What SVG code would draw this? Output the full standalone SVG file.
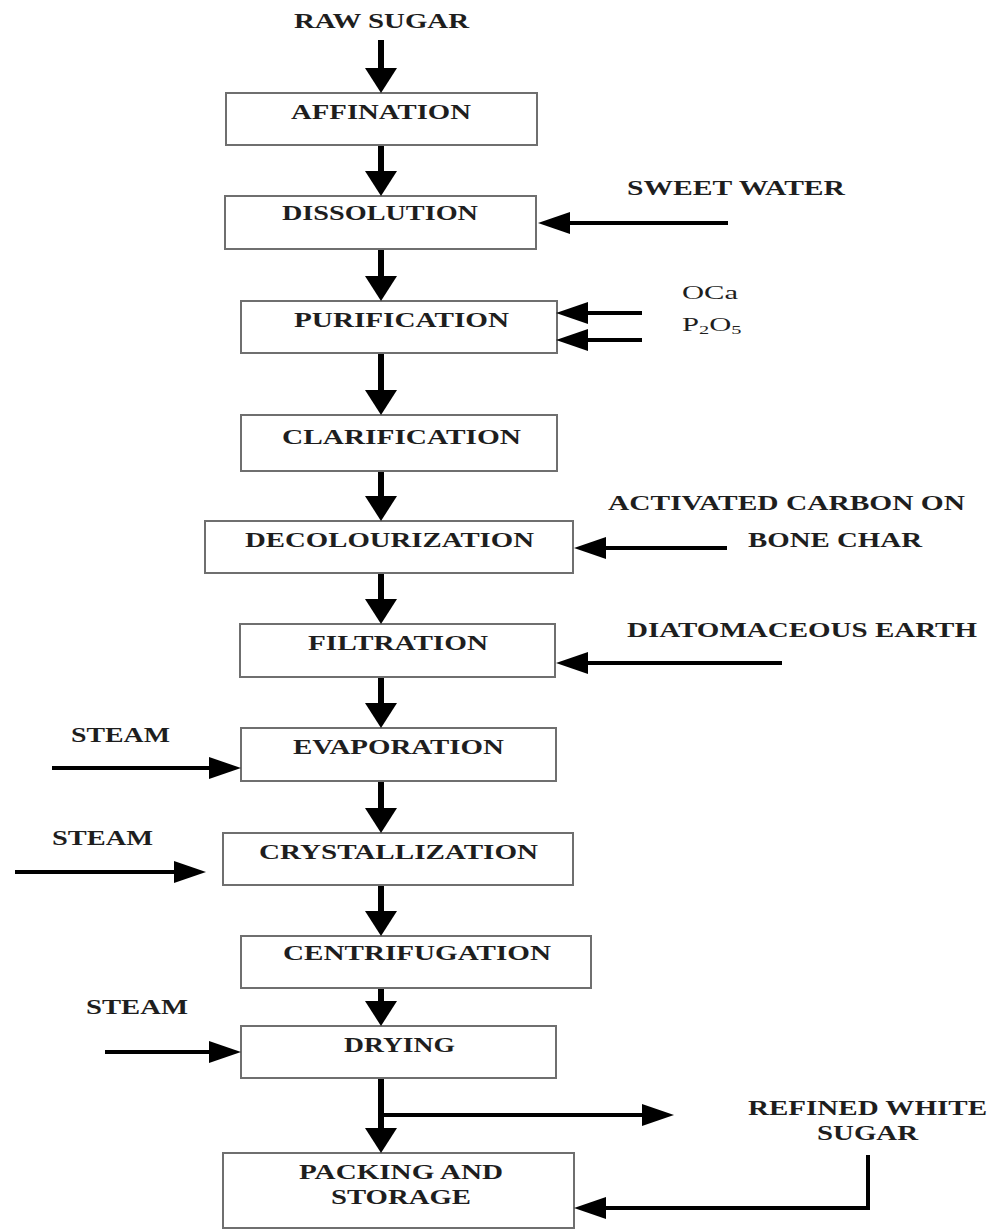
<svg xmlns="http://www.w3.org/2000/svg" width="992" height="1230" viewBox="0 0 992 1230">
  <style>
    .box { fill: #ffffff; stroke: #6f6f6f; stroke-width: 2; }
    .lbl { font-family: "Liberation Serif", "Times New Roman", serif; font-weight: bold; font-size: 21px; fill: #1e1e1e; }
    .chem { font-family: "Liberation Serif", "Times New Roman", serif; font-size: 18px; fill: #1e1e1e; }
    .v { stroke: #000; stroke-width: 6; fill: none; }
    .h { stroke: #000; stroke-width: 4; fill: none; }
  </style>
  <defs>
    <marker id="head-v" markerUnits="userSpaceOnUse" markerWidth="26" markerHeight="32" refX="0" refY="16" orient="auto" overflow="visible">
      <path d="M0,0 L25,16 L0,32 Z" fill="#000"/>
    </marker>
    <marker id="head-h" markerUnits="userSpaceOnUse" markerWidth="33" markerHeight="22" refX="0" refY="11" orient="auto" overflow="visible">
      <path d="M0,0 L32,11 L0,22 Z" fill="#000"/>
    </marker>
  </defs>
  <rect width="992" height="1230" fill="#ffffff"/>

  <!-- process steps -->
  <g id="raw-sugar">
    <text class="lbl" x="294" y="28" textLength="175" lengthAdjust="spacingAndGlyphs">RAW SUGAR</text>
  </g>
  <g id="affination">
    <rect class="box" x="226" y="93" width="311" height="52"/>
    <text class="lbl" x="291" y="119" textLength="180" lengthAdjust="spacingAndGlyphs">AFFINATION</text>
  </g>
  <g id="dissolution">
    <rect class="box" x="225" y="196" width="311" height="53"/>
    <text class="lbl" x="282" y="220" textLength="196" lengthAdjust="spacingAndGlyphs">DISSOLUTION</text>
  </g>
  <g id="purification">
    <rect class="box" x="241" y="301" width="316" height="52"/>
    <text class="lbl" x="294" y="327" textLength="215" lengthAdjust="spacingAndGlyphs">PURIFICATION</text>
  </g>
  <g id="clarification">
    <rect class="box" x="241" y="415" width="316" height="56"/>
    <text class="lbl" x="282" y="444" textLength="239" lengthAdjust="spacingAndGlyphs">CLARIFICATION</text>
  </g>
  <g id="decolourization">
    <rect class="box" x="205" y="521" width="368" height="52"/>
    <text class="lbl" x="245" y="547" textLength="289" lengthAdjust="spacingAndGlyphs">DECOLOURIZATION</text>
  </g>
  <g id="filtration">
    <rect class="box" x="240" y="624" width="315" height="53"/>
    <text class="lbl" x="308" y="650" textLength="180" lengthAdjust="spacingAndGlyphs">FILTRATION</text>
  </g>
  <g id="evaporation">
    <rect class="box" x="241" y="728" width="315" height="53"/>
    <text class="lbl" x="293" y="754" textLength="211" lengthAdjust="spacingAndGlyphs">EVAPORATION</text>
  </g>
  <g id="crystallization">
    <rect class="box" x="223" y="833" width="350" height="52"/>
    <text class="lbl" x="259" y="859" textLength="279" lengthAdjust="spacingAndGlyphs">CRYSTALLIZATION</text>
  </g>
  <g id="centrifugation">
    <rect class="box" x="241" y="936" width="350" height="52"/>
    <text class="lbl" x="283" y="960" textLength="268" lengthAdjust="spacingAndGlyphs">CENTRIFUGATION</text>
  </g>
  <g id="drying">
    <rect class="box" x="241" y="1026" width="315" height="52"/>
    <text class="lbl" x="344" y="1052" textLength="111" lengthAdjust="spacingAndGlyphs">DRYING</text>
  </g>
  <g id="packing-storage">
    <rect class="box" x="223" y="1153" width="351" height="75"/>
    <text class="lbl" x="299" y="1179" textLength="204" lengthAdjust="spacingAndGlyphs">PACKING AND</text>
    <text class="lbl" x="331" y="1204" textLength="140" lengthAdjust="spacingAndGlyphs">STORAGE</text>
  </g>

  <!-- inputs and outputs -->
  <g id="sweet-water">
    <text class="lbl" x="627" y="195" textLength="218" lengthAdjust="spacingAndGlyphs">SWEET WATER</text>
  </g>
  <g id="oca">
    <text class="chem" transform="translate(682,299) scale(1.7,1)">OCa</text>
  </g>
  <g id="p2o5">
    <text class="chem" transform="translate(682,331) scale(1.7,1)">P<tspan font-size="12" dy="3">2</tspan><tspan dy="-3">O</tspan><tspan font-size="12" dy="3">5</tspan></text>
  </g>
  <g id="activated-carbon">
    <text class="lbl" x="608" y="510" textLength="357" lengthAdjust="spacingAndGlyphs">ACTIVATED CARBON ON</text>
    <text class="lbl" x="748" y="547" textLength="174" lengthAdjust="spacingAndGlyphs">BONE CHAR</text>
  </g>
  <g id="diatomaceous-earth">
    <text class="lbl" x="627" y="637" textLength="350" lengthAdjust="spacingAndGlyphs">DIATOMACEOUS EARTH</text>
  </g>
  <g id="steam-evaporation">
    <text class="lbl" x="71" y="742" textLength="99" lengthAdjust="spacingAndGlyphs">STEAM</text>
  </g>
  <g id="steam-crystallization">
    <text class="lbl" x="52" y="845" textLength="101" lengthAdjust="spacingAndGlyphs">STEAM</text>
  </g>
  <g id="steam-drying">
    <text class="lbl" x="86" y="1014" textLength="102" lengthAdjust="spacingAndGlyphs">STEAM</text>
  </g>
  <g id="refined-white-sugar">
    <text class="lbl" x="748" y="1115" textLength="239" lengthAdjust="spacingAndGlyphs">REFINED WHITE</text>
    <text class="lbl" x="817" y="1140" textLength="101" lengthAdjust="spacingAndGlyphs">SUGAR</text>
  </g>

  <!-- connectors -->
  <g id="connectors">
    <line class="v" x1="381" y1="40" x2="381" y2="68" marker-end="url(#head-v)"/>
    <line class="v" x1="381" y1="146" x2="381" y2="171" marker-end="url(#head-v)"/>
    <line class="v" x1="381" y1="250" x2="381" y2="276" marker-end="url(#head-v)"/>
    <line class="v" x1="381" y1="354" x2="381" y2="390" marker-end="url(#head-v)"/>
    <line class="v" x1="381" y1="472" x2="381" y2="496" marker-end="url(#head-v)"/>
    <line class="v" x1="381" y1="574" x2="381" y2="599" marker-end="url(#head-v)"/>
    <line class="v" x1="381" y1="678" x2="381" y2="703" marker-end="url(#head-v)"/>
    <line class="v" x1="381" y1="782" x2="381" y2="808" marker-end="url(#head-v)"/>
    <line class="v" x1="381" y1="886" x2="381" y2="911" marker-end="url(#head-v)"/>
    <line class="v" x1="381" y1="989" x2="381" y2="1001" marker-end="url(#head-v)"/>
    <line class="v" x1="381" y1="1079" x2="381" y2="1128" marker-end="url(#head-v)"/>

    <line class="h" x1="381" y1="1115" x2="642" y2="1115" marker-end="url(#head-h)"/>

    <line class="h" x1="728" y1="223" x2="570" y2="223" marker-end="url(#head-h)"/>
    <line class="h" x1="642" y1="313" x2="588" y2="313" marker-end="url(#head-h)"/>
    <line class="h" x1="642" y1="340" x2="588" y2="340" marker-end="url(#head-h)"/>
    <line class="h" x1="727" y1="548" x2="606" y2="548" marker-end="url(#head-h)"/>
    <line class="h" x1="782" y1="663" x2="588" y2="663" marker-end="url(#head-h)"/>

    <line class="h" x1="52" y1="768" x2="209" y2="768" marker-end="url(#head-h)"/>
    <line class="h" x1="15" y1="872" x2="174" y2="872" marker-end="url(#head-h)"/>
    <line class="h" x1="105" y1="1052" x2="209" y2="1052" marker-end="url(#head-h)"/>

    <path class="h" d="M868,1155 V1208 H606" stroke-width="5" marker-end="url(#head-h)"/>
  </g>
</svg>
